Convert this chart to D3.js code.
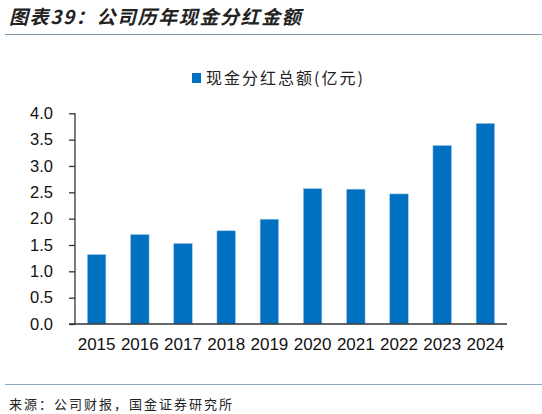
<!DOCTYPE html>
<html>
<head>
<meta charset="utf-8">
<script src="https://cdn.jsdelivr.net/npm/d3@7"></script>
<style>
  body { margin: 0; background: #fff; }
  svg { display: block; }
</style>
</head>
<body>
<script>
let years = ['2015','2016','2017','2018','2019','2020','2021','2022','2023','2024'],
    dividends = [1.32, 1.70, 1.53, 1.77, 1.99, 2.57, 2.56, 2.47, 3.39, 3.81],
    yTicks = [0, 0.5, 1, 1.5, 2, 2.5, 3, 3.5, 4];

let title = '图表39：公司历年现金分红金额',
    seriesName = '现金分红总额(亿元)',
    source = '来源：公司财报，国金证券研究所';

let w = 542, h = 414;
let cjk = '"Noto Sans CJK SC", sans-serif';
let latin = '"Liberation Sans", Arial, sans-serif';

let svg = d3.select('body')
  .append('svg')
  .attr('width', w)
  .attr('height', h);

// header
svg.append('text')
  .text(title)
  .attr('x', 9)
  .attr('y', 24)
  .style('font-family', cjk)
  .style('font-size', '19px')
  .style('letter-spacing', '1.6px')
  .style('font-weight', 'bold')
  .style('font-style', 'italic')
  .style('fill', '#222');

svg.append('line')
  .attr('x1', 5).attr('x2', w)
  .attr('y1', 34.5).attr('y2', 34.5)
  .style('stroke', '#8299ad')
  .style('stroke-width', 1.2);

// legend
svg.append('rect')
  .attr('x', 192).attr('y', 73)
  .attr('width', 9).attr('height', 10)
  .style('fill', '#0070c0');

svg.append('text')
  .text(seriesName)
  .attr('x', 206)
  .attr('y', 84)
  .style('font-family', cjk)
  .style('font-size', '16px')
  .style('letter-spacing', '2px')
  .style('fill', '#222');

// scales
let xScale = d3.scaleBand()
  .domain(years)
  .range([75, 507])
  .paddingInner(0.57)
  .paddingOuter(0.285);

let yScale = d3.scaleLinear()
  .domain([0, 4])
  .range([324, 113.3]);

// bars
svg.selectAll('rect.bar')
  .data(years)
  .enter()
  .append('rect')
  .attr('class', 'bar')
  .attr('x', d => xScale(d))
  .attr('width', xScale.bandwidth())
  .attr('y', (d, i) => yScale(dividends[i]))
  .attr('height', (d, i) => yScale(0) - yScale(dividends[i]))
  .style('fill', '#0070c0')
  .style('stroke', '#a9cbe8')
  .style('stroke-width', 0.6);

// y axis
let yAxis = svg.append('g')
  .attr('transform', 'translate(75,0)')
  .call(d3.axisLeft(yScale).tickValues(yTicks).tickSize(6).tickPadding(16)
    .tickFormat(d3.format('.1f')));

yAxis.selectAll('text')
  .style('font-family', latin)
  .style('font-size', '16.5px')
  .style('fill', '#111');

// x axis
let xAxis = svg.append('g')
  .attr('transform', 'translate(0,324)')
  .call(d3.axisBottom(xScale).tickSize(0).tickPadding(14));

xAxis.selectAll('text')
  .style('font-family', latin)
  .style('font-size', '17px')
  .style('fill', '#111');

svg.selectAll('.domain').remove();
yAxis.selectAll('.tick line').style('stroke', '#333').style('stroke-width', 1.3);

svg.append('line')
  .attr('x1', 75).attr('x2', 75)
  .attr('y1', yScale(4)).attr('y2', yScale(0))
  .style('stroke', '#333').style('stroke-width', 1.3);

svg.append('line')
  .attr('x1', 69).attr('x2', 507)
  .attr('y1', yScale(0)).attr('y2', yScale(0))
  .style('stroke', '#333').style('stroke-width', 1.6);

// footer
svg.append('line')
  .attr('x1', 5).attr('x2', w)
  .attr('y1', 384.5).attr('y2', 384.5)
  .style('stroke', '#8eaac0')
  .style('stroke-width', 1);

svg.append('text')
  .text(source)
  .attr('x', 9)
  .attr('y', 409)
  .style('font-family', cjk)
  .style('font-size', '13px')
  .style('letter-spacing', '2px')
  .style('fill', '#222');
</script>
</body>
</html>
